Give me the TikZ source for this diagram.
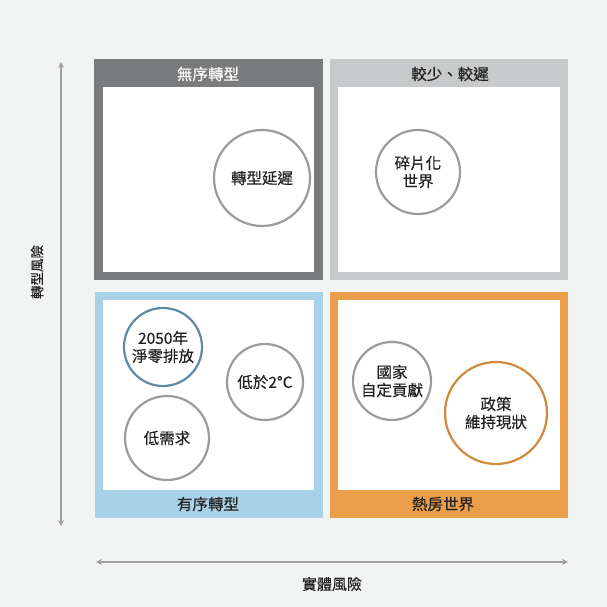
\documentclass[tikz,border=0pt]{standalone}
\usepackage{fontspec}
\setmainfont{Noto Sans CJK TC}[FakeBold=0.4]
\usetikzlibrary{arrows.meta}
\definecolor{bg}{HTML}{F2F3F3}
\definecolor{qdark}{HTML}{7A7B7D}
\definecolor{qlight}{HTML}{C8C9CA}
\definecolor{qblue}{HTML}{A9D1E8}
\definecolor{qorange}{HTML}{EB9F4B}
\definecolor{cgrey}{HTML}{9C9C9C}
\definecolor{cblue}{HTML}{5E8AA3}
\definecolor{corange}{HTML}{D08A3C}
\definecolor{txt}{HTML}{222222}
\definecolor{axis}{HTML}{A0A0A0}
\tikzset{
  bubble/.style={circle, draw=cgrey, line width=2.2pt, fill=white, inner sep=0pt,
     align=center, text=txt, font=\fontsize{15.5}{18}\selectfont},
  qtitle/.style={font=\fontsize{15.5}{18}\selectfont, text=txt},
  axisline/.style={draw=axis, line width=1.3pt, {Stealth[length=6pt,width=6pt]}-{Stealth[length=6pt,width=6pt]}},
  axislabel/.style={font=\fontsize{15}{18}\selectfont, text=txt}
}
\begin{document}
\begin{tikzpicture}[x=1pt,y=-1pt]
\fill[bg] (0,0) rectangle (607,607);
\useasboundingbox (0,0) rectangle (607,607);
% quadrant frames
\fill[qdark] (94,59) rectangle (323,280);
\fill[white] (103,87) rectangle (314,272);
\fill[qlight] (330,59) rectangle (568,280);
\fill[white] (338,87) rectangle (560,272);
\fill[qblue] (95,292) rectangle (323,518);
\fill[white] (103,300) rectangle (314,490);
\fill[qorange] (330,292) rectangle (568,518);
\fill[white] (338,300) rectangle (560,490);
% titles
\node[qtitle, text=white] (t1) at (208,74) {無序轉型};
\node[qtitle] (t2) at (450,74) {較少、較遲};
\node[qtitle] (t3) at (208,504) {有序轉型};
\node[qtitle] (t4) at (443,504) {熱房世界};
% bubbles
\node[bubble, minimum size=96pt] (b1) at (262,178) {轉型延遲};
\node[bubble, minimum size=84pt] (b2) at (418,172) {碎片化\\世界};
\node[bubble, draw=cblue, minimum size=78pt] (b3) at (163,347) {2050年\\淨零排放};
\node[bubble, minimum size=76pt] (b4) at (265,382) {低於2°C};
\node[bubble, minimum size=84pt] (b5) at (167,438) {低需求};
\node[bubble, minimum size=78pt] (b6) at (392,381) {國家\\自定貢獻};
\node[bubble, draw=corange, minimum size=102pt] (b7) at (496,413) {政策\\維持現狀};
% axes
\coordinate (vtop) at (61,62);
\coordinate (vbot) at (61,526);
\coordinate (hl) at (96,562);
\coordinate (hr) at (568,562);
\draw[axisline] (vbot) -- (vtop);
\draw[axisline] (hl) -- (hr);
\node[axislabel, rotate=90, font=\fontsize{13.5}{16}\selectfont] (ly) at (37,272) {轉型風險};
\node[axislabel] (lx) at (332,584) {實體風險};
\end{tikzpicture}
\end{document}
